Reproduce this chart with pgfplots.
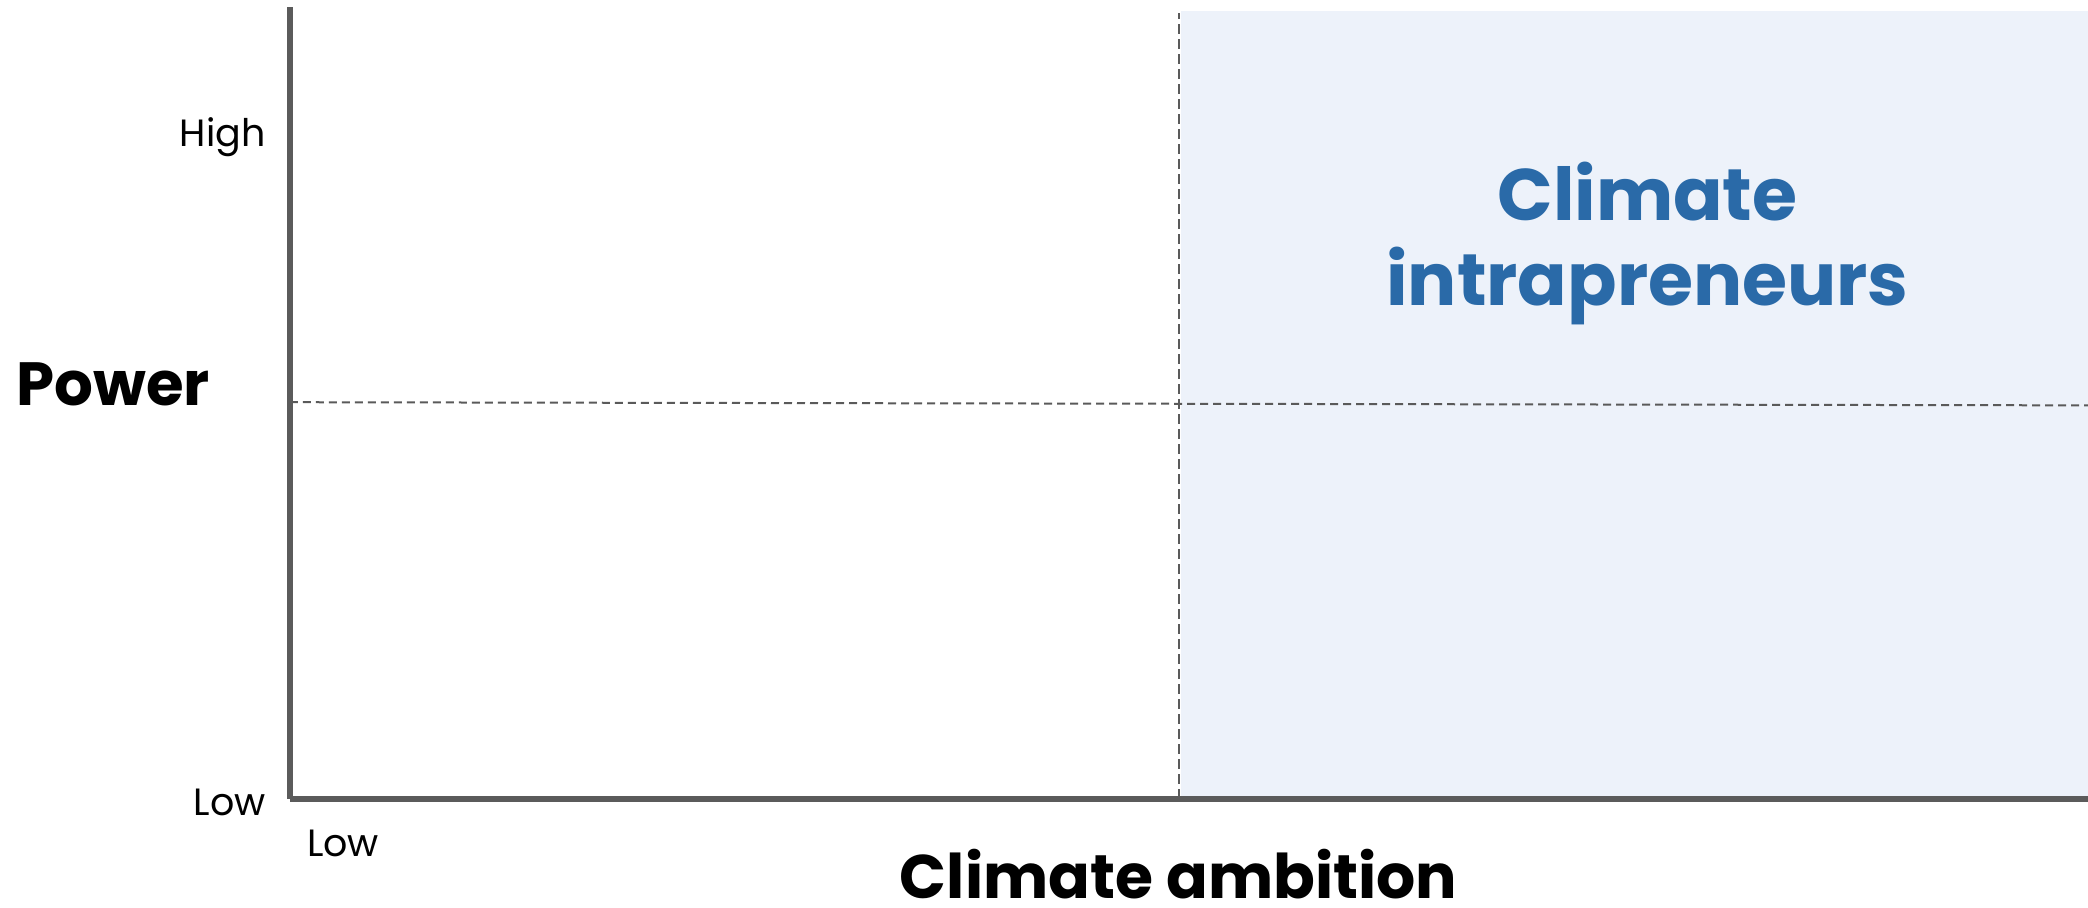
\documentclass[border=0pt]{standalone}
\usepackage{fontspec}
\setmainfont{Poppins}
\usepackage{pgfplots}
\pgfplotsset{compat=1.18}
\definecolor{axisgray}{HTML}{5B5B5B}
\definecolor{dashgray}{HTML}{5A5A5A}
\definecolor{shade}{HTML}{EDF2FA}
\definecolor{ciblue}{HTML}{2A6AA8}
\begin{document}
\begin{tikzpicture}
\path[use as bounding box] (-145pt,-54.5pt) rectangle (899pt,399.5pt);
\begin{axis}[
  at={(0pt,0pt)}, anchor=south west,
  scale only axis, width=899pt, height=396pt,
  xmin=0, xmax=1, ymin=0, ymax=1,
  axis x line=bottom, axis y line=left,
  axis line style={-, draw=axisgray, line width=2.8pt},
  xtick={0.0295}, xticklabels={Low},
  ytick={0,0.845}, yticklabels={Low,High},
  major tick length=0pt,
  tick style={draw=none},
  yticklabel style={font=\fontsize{19}{21}\selectfont, anchor=base east, inner sep=0pt, xshift=-12pt, yshift=-8.5pt},
  xticklabel style={font=\fontsize{19}{21}\selectfont, yshift=-12pt},
  clip=false,
  axis on top,
]
\addplot[fill=shade, draw=none] coordinates {(0.4956,0) (1,0) (1,0.9953) (0.4956,0.9953)} -- cycle;
\addplot[dashgray, line width=1pt, dash pattern=on 5pt off 2.5pt] coordinates {(0.4942,0) (0.4942,0.992)};
\addplot[dashgray, line width=1pt, dash pattern=on 4pt off 2.5pt] coordinates {(0,0.501) (1,0.497)};
\node[anchor=west, inner sep=0pt, font=\fontsize{30.5}{32}\selectfont\bfseries, xshift=-137pt] at (rel axis cs:0,0.523) {Power};
\node[inner sep=0pt, font=\fontsize{30.8}{33}\selectfont\bfseries, yshift=-37.5pt] at (axis cs:0.4942,0) {Climate ambition};
\node[anchor=base, inner sep=0pt, font=\fontsize{36.5}{43}\selectfont\bfseries, text=ciblue] at (axis cs:0.755,0.731) {Climate};
\node[anchor=base, inner sep=0pt, font=\fontsize{36.5}{43}\selectfont\bfseries, text=ciblue] at (axis cs:0.755,0.6225) {intrapreneurs};
\end{axis}
\end{tikzpicture}
\end{document}
